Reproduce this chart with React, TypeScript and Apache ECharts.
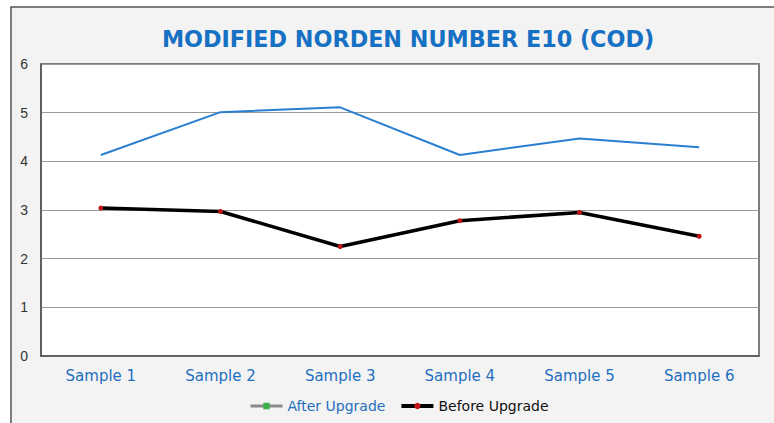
import React, { useEffect, useRef } from "react";
import * as echarts from "echarts";

const categories = ["Sample 1", "Sample 2", "Sample 3", "Sample 4", "Sample 5", "Sample 6"];
const afterUpgrade = [4.13, 5.01, 5.11, 4.13, 4.47, 4.29];
const beforeUpgrade = [3.04, 2.97, 2.25, 2.78, 2.95, 2.46];
const seriesNames = ["After Upgrade", "Before Upgrade"];
const titleText = "MODIFIED NORDEN NUMBER E10 (COD)";

export default function App() {
  const ref = useRef<HTMLDivElement>(null);
  useEffect(() => {
    document.body.style.margin = "0";
    const chart = echarts.init(ref.current!, null, { renderer: "svg" });
    chart.setOption({
      animation: false,
      backgroundColor: "#ffffff",
      graphic: [
        {
          type: "rect",
          shape: { x: 11, y: 7, width: 780, height: 430 },
          style: { fill: "#f3f3f3", stroke: "#555555", lineWidth: 1.5 },
          z: -10,
        },
      ],
      title: {
        text: titleText,
        left: 403,
        textAlign: "center",
        top: 23,
        textStyle: {
          fontFamily: "DejaVu Sans",
          fontWeight: "bold",
          fontSize: 22.3,
          color: "#1670c4",
        },
      },
      legend: {
        bottom: 5,
        left: 244,
        itemWidth: 32,
        itemHeight: 8,
        itemGap: 14,
        textStyle: { fontFamily: "DejaVu Sans", fontSize: 14 },
        data: [
          {
            name: seriesNames[0],
            itemStyle: { color: "#3cae4a" },
            lineStyle: { color: "#8a8a8a", width: 3 },
            textStyle: { color: "#1f6fbf" },
          },
          {
            name: seriesNames[1],
            itemStyle: { color: "#c0141a" },
            lineStyle: { color: "#000000", width: 4 },
            textStyle: { color: "#111111" },
          },
        ],
      },
      grid: {
        left: 41,
        right: 15,
        top: 64,
        bottom: 67,
        show: true,
        backgroundColor: "#ffffff",
        borderColor: "#555555",
        borderWidth: 1.5,
      },
      xAxis: {
        type: "category",
        data: categories,
        boundaryGap: true,
        axisTick: { show: false },
        axisLine: { lineStyle: { color: "#555555", width: 1.5 } },
        axisLabel: {
          color: "#1f6fbf",
          fontFamily: "DejaVu Sans",
          fontSize: 15,
          margin: 12,
        },
      },
      yAxis: {
        type: "value",
        min: 0,
        max: 6,
        interval: 1,
        axisLine: { show: true, lineStyle: { color: "#555555", width: 1.5 } },
        axisTick: { show: false },
        splitLine: { lineStyle: { color: "#9a9a9a", width: 1 } },
        axisLabel: {
          color: "#333333",
          fontFamily: "Liberation Sans",
          fontSize: 14,
          margin: 13,
        },
      },
      series: [
        {
          name: seriesNames[0],
          type: "line",
          data: afterUpgrade,
          showSymbol: false,
          symbol: "rect",
          symbolSize: 5,
          itemStyle: { color: "#2a7fd0" },
          lineStyle: { color: "#2a7fd0", width: 2 },
        },
        {
          name: seriesNames[1],
          type: "line",
          data: beforeUpgrade,
          symbol: "circle",
          symbolSize: 5,
          itemStyle: { color: "#c0141a" },
          lineStyle: { color: "#000000", width: 3.5 },
          z: 3,
        },
      ],
    });
    return () => chart.dispose();
  }, []);
  return <div ref={ref} style={{ width: 774, height: 423, position: "absolute", left: 0, top: 0 }} />;
}
